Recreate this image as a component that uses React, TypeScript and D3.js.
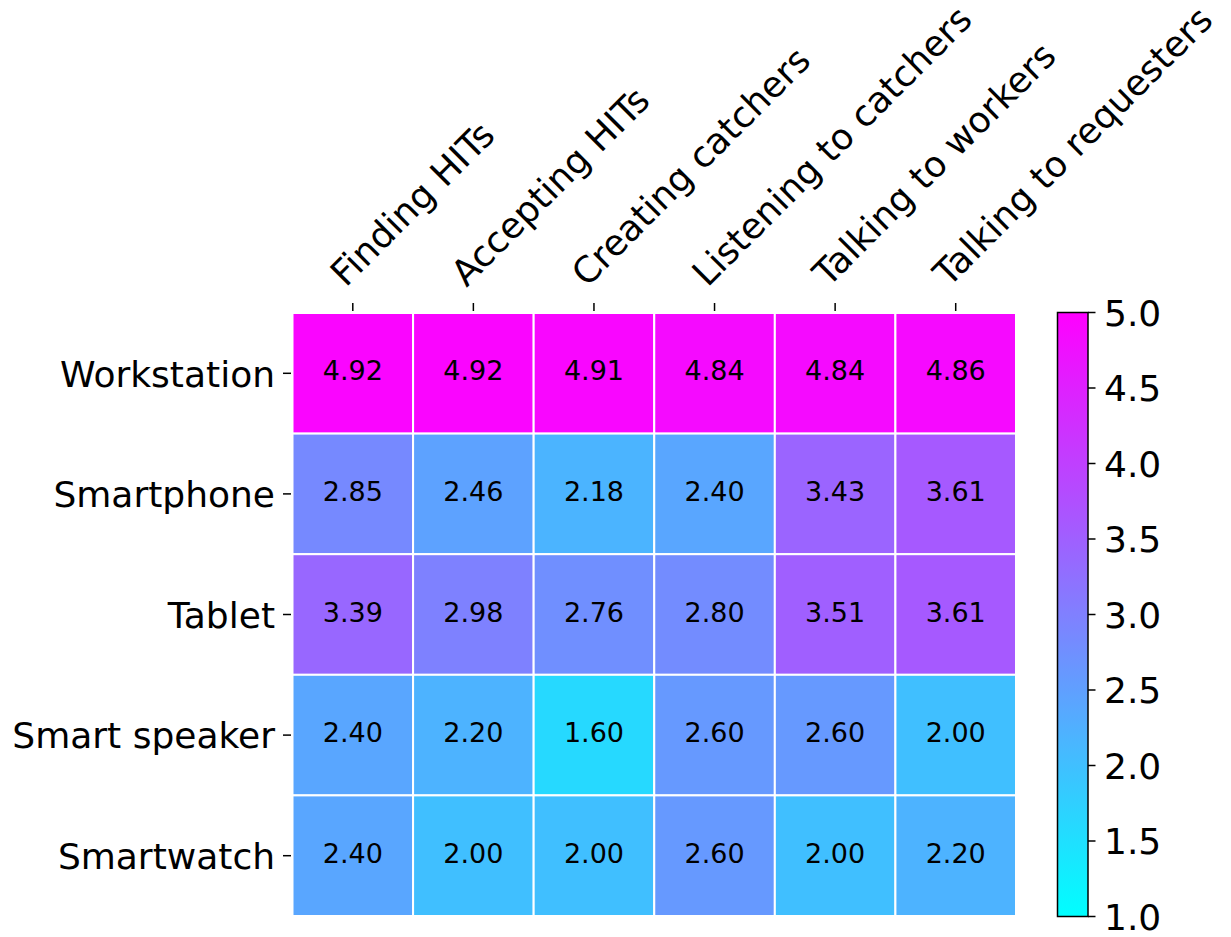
import React, { useRef, useEffect } from 'react';
import * as d3 from 'd3';

const tasks = ['Finding HITs', 'Accepting HITs', 'Creating catchers', 'Listening to catchers', 'Talking to workers', 'Talking to requesters'];
const devices = ['Workstation', 'Smartphone', 'Tablet', 'Smart speaker', 'Smartwatch'];
const workstation = [4.92, 4.92, 4.91, 4.84, 4.84, 4.86];
const smartphone = [2.85, 2.46, 2.18, 2.40, 3.43, 3.61];
const tablet = [3.39, 2.98, 2.76, 2.80, 3.51, 3.61];
const smartSpeaker = [2.40, 2.20, 1.60, 2.60, 2.60, 2.00];
const smartwatch = [2.40, 2.00, 2.00, 2.60, 2.00, 2.20];
const colorTicks = [1.0, 1.5, 2.0, 2.5, 3.0, 3.5, 4.0, 4.5, 5.0];

const W = 1231, H = 937;
const font = 'DejaVu Sans, sans-serif';

export default function App() {
    const svg_ref = useRef<SVGSVGElement>(null);
    useEffect(() => draw(svg_ref.current), []);
    return (
        <svg ref={svg_ref} width={W} height={H}
            style={{ position: 'absolute', left: 0, top: 0, background: '#fff' }} />
    );
}

function draw(node: SVGSVGElement | null) {
    if (!node) return;
    const svg = d3.select(node);
    svg.selectAll('*').remove();

    const rows = [workstation, smartphone, tablet, smartSpeaker, smartwatch];
    const cells = rows.flatMap((vals, r) => vals.map((v, c) => ({ r, c, v })));

    const x = d3.scaleBand().domain(tasks).range([292.5, 1016]);
    const y = d3.scaleBand().domain(devices).range([313, 916]);
    // matplotlib "cool" colormap, vmin 1, vmax 5
    const color = (v: number) => d3.interpolateRgb('#00ffff', '#ff00ff')((v - 1) / 4);

    // cells
    svg.append('g').selectAll('rect')
        .data(cells)
        .join('rect')
        .attr('x', d => x(tasks[d.c])!)
        .attr('y', d => y(devices[d.r])!)
        .attr('width', x.bandwidth())
        .attr('height', y.bandwidth())
        .attr('fill', d => color(d.v))
        .attr('stroke', '#fff')
        .attr('stroke-width', 2);

    svg.append('g').selectAll('text')
        .data(cells)
        .join('text')
        .attr('x', d => x(tasks[d.c])! + x.bandwidth() / 2)
        .attr('y', d => y(devices[d.r])! + y.bandwidth() / 2)
        .attr('dy', '0.26em')
        .attr('text-anchor', 'middle')
        .style('font-family', font)
        .style('font-size', '27px')
        .text(d => d.v.toFixed(2));

    // x axis (top)
    const xg = svg.append('g');
    xg.selectAll('line')
        .data(tasks)
        .join('line')
        .attr('x1', d => x(d)! + x.bandwidth() / 2)
        .attr('x2', d => x(d)! + x.bandwidth() / 2)
        .attr('y1', 303).attr('y2', 311)
        .attr('stroke', '#000').attr('stroke-width', 1.5);
    xg.selectAll('text')
        .data(tasks)
        .join('text')
        .attr('transform', d => `translate(${x(d)! + x.bandwidth() / 2 - 7},${288}) rotate(-45)`)
        .style('font-family', font)
        .style('font-size', '36px')
        .text(d => d);

    // y axis
    const yg = svg.append('g');
    yg.selectAll('line')
        .data(devices)
        .join('line')
        .attr('x1', 283).attr('x2', 291)
        .attr('y1', d => y(d)! + y.bandwidth() / 2)
        .attr('y2', d => y(d)! + y.bandwidth() / 2)
        .attr('stroke', '#000').attr('stroke-width', 1.5);
    yg.selectAll('text')
        .data(devices)
        .join('text')
        .attr('x', 275)
        .attr('y', d => y(d)! + y.bandwidth() / 2)
        .attr('dy', '0.37em')
        .attr('text-anchor', 'end')
        .style('font-family', font)
        .style('font-size', '36px')
        .text(d => d);

    // colorbar
    const cb = { x: 1057.5, w: 30.5 };
    const cy = d3.scaleLinear().domain([1, 5]).range([916.5, 312.5]);
    const grad = svg.append('defs').append('linearGradient')
        .attr('id', 'cbgrad')
        .attr('x1', 0).attr('x2', 0).attr('y1', 1).attr('y2', 0);
    d3.range(0, 1.0001, 0.1).forEach(t => {
        grad.append('stop').attr('offset', t).attr('stop-color', color(1 + 4 * t));
    });
    svg.append('rect')
        .attr('x', cb.x).attr('y', cy(5))
        .attr('width', cb.w).attr('height', cy(1) - cy(5))
        .attr('fill', 'url(#cbgrad)')
        .attr('stroke', '#000').attr('stroke-width', 1.5);

    const cg = svg.append('g');
    cg.selectAll('line')
        .data(colorTicks)
        .join('line')
        .attr('x1', cb.x + cb.w).attr('x2', cb.x + cb.w + 7.5)
        .attr('y1', d => cy(d)).attr('y2', d => cy(d))
        .attr('stroke', '#000').attr('stroke-width', 1.5);
    cg.selectAll('text')
        .data(colorTicks)
        .join('text')
        .attr('x', 1104)
        .attr('y', d => cy(d))
        .attr('dy', '0.37em')
        .style('font-family', font)
        .style('font-size', '36px')
        .text(d => d.toFixed(1));
}
